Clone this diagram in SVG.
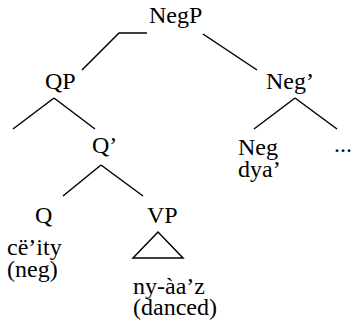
<svg xmlns="http://www.w3.org/2000/svg" width="353" height="326" viewBox="0 0 353 326">
<style>
.e{stroke:#000;stroke-width:1.5;fill:none}
.t{font-family:"Liberation Serif","Times New Roman",Tinos,serif;font-size:24px;fill:#000}
</style>
<rect width="353" height="326" fill="#fff"/>
<g id="connectors">
<polyline class="e" points="147,33 119,33 82,70"/>
<line class="e" x1="203" y1="34" x2="257" y2="70"/>
<line class="e" x1="54" y1="98" x2="13" y2="129"/>
<line class="e" x1="54" y1="98" x2="95" y2="129"/>
<line class="e" x1="295" y1="98" x2="254" y2="129"/>
<line class="e" x1="295" y1="98" x2="337" y2="129"/>
<line class="e" x1="101" y1="165" x2="63" y2="196"/>
<line class="e" x1="101" y1="165" x2="143" y2="196"/>
<polygon class="e" points="158,232 133,258 183,258"/>
</g>
<g class="t">
<g id="NegP"><text x="149" y="23">NegP</text></g>
<g id="QP"><text x="45" y="89">QP</text></g>
<g id="NegBar"><text x="266" y="89">Neg’</text></g>
<g id="QBar"><text x="92" y="153">Q’</text></g>
<g id="Neg"><text x="238" y="155">Neg</text><text x="238" y="177">dya’</text></g>
<g id="dots"><text x="334" y="152">...</text></g>
<g id="Q"><text x="35" y="223">Q</text><text x="7" y="255">cë’ity</text><text x="7" y="277">(neg)</text></g>
<g id="VP"><text x="147" y="223">VP</text><text x="133" y="294">ny-àa’z</text><text x="133" y="315">(danced)</text></g>
</g>
</svg>
